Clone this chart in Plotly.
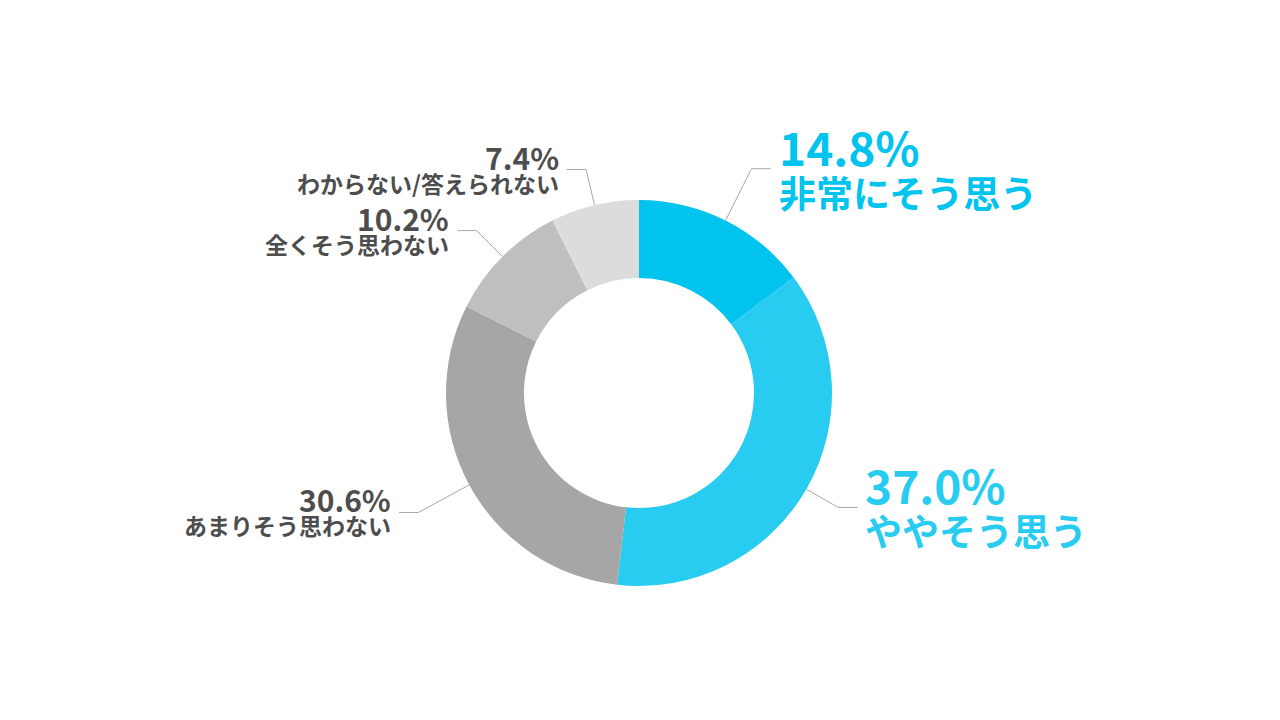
import math

import plotly.graph_objects as go

# 回答の内訳(%)
labels = ["非常にそう思う", "ややそう思う", "あまりそう思わない", "全くそう思わない", "わからない/答えられない"]
values = [14.8, 37.0, 30.6, 10.2, 7.4]
colors = ["#00C3EE", "#29CCF1", "#A6A6A6", "#BFBFBF", "#DCDCDC"]

# 見た目の調整
W, H = 1280, 720
OFF = 8                              # ページ本体の余白ぶん
CX, CY, R = 639 - OFF, 393 - OFF, 193  # 円の中心(px, 上から)と外半径
HOLE = 0.596
leader_r = [1.30, 1.19, 1.30, 1.19, 1.19]   # 引き出し線の折れ位置(外半径比)
emph = [True, True, False, False, False]    # 強調ラベル(大きく・色付き)
FONT = "Noto Sans CJK JP"
TEXT_GRAY = "#4D4D4D"
LINE_GRAY = "#A8A8A8"

fig = go.Figure()
fig.add_trace(go.Pie(
    labels=labels, values=values, hole=HOLE, sort=False,
    direction="clockwise", rotation=0,
    marker=dict(colors=colors, line=dict(width=0)),
    textinfo="none", hoverinfo="label+percent", showlegend=False,
    domain=dict(x=[(CX - R) / W, (CX + R) / W],
                y=[(H - CY - R) / H, (H - CY + R) / H]),
))

# 外半径=1 の座標系(中心 0,0)で引き出し線とラベルを置く
total = sum(values)
cum = 0.0
h = 0.1
for i, (lab, v) in enumerate(zip(labels, values)):
    th = 2 * math.pi * (cum + v / 2) / total
    cum += v
    sx, sy = math.sin(th), math.cos(th)
    ex, ey = sx * leader_r[i], sy * leader_r[i]
    side = 1 if sx >= 0 else -1
    hx = ex + side * h
    fig.add_trace(go.Scatter(
        x=[sx, ex, hx], y=[sy, ey, ey], mode="lines",
        line=dict(color=LINE_GRAY, width=1), hoverinfo="skip", showlegend=False,
    ))
    big = emph[i]
    col = colors[i] if big else TEXT_GRAY
    pct_size, lab_size, dy = (46, 37, 23) if big else (30, 23, 13)
    anchor = "left" if side > 0 else "right"
    fig.add_annotation(
        x=hx, y=ey, xref="x", yref="y", text=f"{v:.1f}%", showarrow=False,
        xanchor=anchor, yanchor="middle", xshift=side * 6, yshift=dy,
        font=dict(family=FONT, size=pct_size, color=col, weight="bold"),
    )
    fig.add_annotation(
        x=hx, y=ey, xref="x", yref="y", text=lab, showarrow=False,
        xanchor=anchor, yanchor="middle", xshift=side * 6, yshift=-dy,
        font=dict(family=FONT, size=lab_size, color=col, weight="bold"),
    )

fig.update_layout(
    width=W, height=H, margin=dict(l=0, r=0, t=0, b=0),
    paper_bgcolor="white", plot_bgcolor="white",
    xaxis=dict(range=[-CX / R, (W - CX) / R], visible=False, fixedrange=True),
    yaxis=dict(range=[-(H - CY) / R, CY / R], visible=False, fixedrange=True),
)
fig.write_html("out.html")
